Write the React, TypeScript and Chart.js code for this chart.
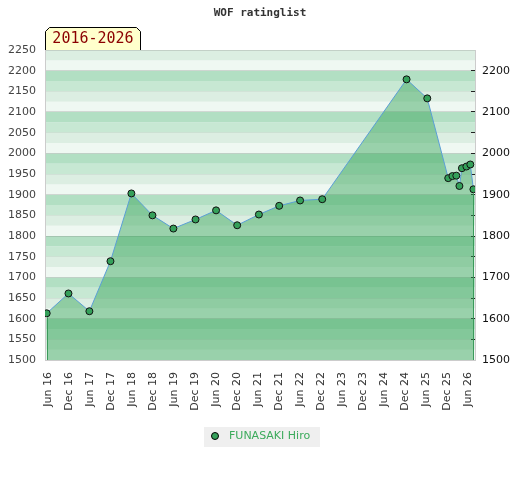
import React, { useEffect, useRef } from 'react';
import { Chart, registerables } from 'chart.js';

Chart.register(...registerables);

const chartTitle = 'WOF ratinglist';
const periodLabel = '2016-2026';
const playerName = 'FUNASAKI Hiro';

const ratingDates = [
  '2016-05-16', '2016-11-22', '2017-05-22', '2017-11-22', '2018-05-22', '2018-11-22',
  '2019-05-22', '2019-12-01', '2020-05-28', '2020-11-28', '2021-06-04', '2021-11-28',
  '2022-05-28', '2022-12-07', '2024-12-10', '2025-06-07', '2025-12-07', '2026-01-13',
  '2026-02-15', '2026-03-13', '2026-04-04', '2026-05-13', '2026-06-16', '2026-07-13',
];
const ratings = [
  1613, 1661, 1618, 1739, 1903, 1850,
  1818, 1840, 1862, 1826, 1852, 1873,
  1886, 1889, 2179, 2133, 1940, 1945,
  1946, 1921, 1964, 1968, 1973, 1913,
];
const xTickLabels = [
  'Jun 16', 'Dec 16', 'Jun 17', 'Dec 17', 'Jun 18', 'Dec 18', 'Jun 19', 'Dec 19',
  'Jun 20', 'Dec 20', 'Jun 21', 'Dec 21', 'Jun 22', 'Dec 22', 'Jun 23', 'Dec 23',
  'Jun 24', 'Dec 24', 'Jun 25', 'Dec 25', 'Jun 26',
];
const xRange = ['2016-05-01', '2026-07-27'];
const yMin = 1500;
const yMax = 2250;
const leftStep = 50;
const rightStep = 100;

const MONTHS = ['Jan', 'Feb', 'Mar', 'Apr', 'May', 'Jun', 'Jul', 'Aug', 'Sep', 'Oct', 'Nov', 'Dec'];
const BASE_YEAR = 2016;

function dateToMonths(s: string): number {
  const [y, m, d] = s.split('-').map(Number);
  const dim = new Date(y, m, 0).getDate();
  return (y - BASE_YEAR) * 12 + (m - 1) + (d - 1) / dim;
}
function labelToMonths(l: string): number {
  const [mon, yy] = l.split(' ');
  return (2000 + Number(yy) - BASE_YEAR) * 12 + MONTHS.indexOf(mon);
}

const FONT = "'DejaVu Sans', Verdana, sans-serif";
const MONO = "'DejaVu Sans Mono', monospace";
const POINT_FILL = '#35a05a';

const bandPlugin = {
  id: 'bands',
  beforeDraw(chart: any) {
    const { ctx, chartArea: a, scales } = chart;
    const y = scales.y;
    const colors = ['#eff8f2', '#dceee2', '#c7e8d3', '#b2dfc3'];
    ctx.save();
    ctx.beginPath();
    ctx.rect(a.left, a.top, a.right - a.left, a.bottom - a.top);
    ctx.clip();
    for (let v = y.min; v < y.max; v += 25) {
      const idx = Math.floor((((v % 100) + 100) % 100) / 25);
      const top = y.getPixelForValue(v + 25);
      const bot = y.getPixelForValue(v);
      ctx.fillStyle = colors[idx];
      ctx.fillRect(a.left, top, a.right - a.left, bot - top);
    }
    ctx.restore();
  },
};

const edgePlugin = {
  id: 'edges',
  afterDatasetsDraw(chart: any) {
    const { ctx, chartArea: a } = chart;
    const pts = chart.getDatasetMeta(0).data;
    if (!pts.length) return;
    ctx.save();
    ctx.strokeStyle = '#3a9a5a';
    ctx.lineWidth = 1;
    for (const p of [pts[0], pts[pts.length - 1]]) {
      const x = Math.round(p.x) + 0.5;
      ctx.beginPath();
      ctx.moveTo(x, p.y + 4);
      ctx.lineTo(x, a.bottom);
      ctx.stroke();
    }
    ctx.restore();
  },
};

const overlayPlugin = {
  id: 'overlay',
  afterDraw(chart: any) {
    const { ctx, chartArea: a, width } = chart;
    ctx.save();
    // title
    ctx.font = `bold 11px ${MONO}`;
    ctx.fillStyle = '#333';
    ctx.textAlign = 'center';
    ctx.textBaseline = 'middle';
    ctx.fillText(chartTitle, width / 2, 13);

    // period tab
    const l = a.left + 0.5, r = a.left + 95.5, t = 27.5, b = a.top, bev = 4;
    ctx.beginPath();
    ctx.moveTo(l, b);
    ctx.lineTo(l, t + bev);
    ctx.lineTo(l + bev, t);
    ctx.lineTo(r - bev, t);
    ctx.lineTo(r, t + bev);
    ctx.lineTo(r, b);
    ctx.fillStyle = '#ffffcc';
    ctx.fill();
    ctx.strokeStyle = '#000';
    ctx.lineWidth = 1;
    ctx.stroke();
    ctx.font = `15px ${MONO}`;
    ctx.fillStyle = '#8b0000';
    ctx.textAlign = 'center';
    ctx.textBaseline = 'middle';
    ctx.fillText(periodLabel, (l + r) / 2, 39.5);

    // legend
    const lx = 204, ly = 427, lw = 116, lh = 20;
    ctx.fillStyle = '#efefef';
    ctx.fillRect(lx, ly, lw, lh);
    ctx.beginPath();
    ctx.arc(lx + 11, ly + 9, 3.5, 0, Math.PI * 2);
    ctx.fillStyle = POINT_FILL;
    ctx.fill();
    ctx.strokeStyle = '#000';
    ctx.stroke();
    ctx.font = `11px ${FONT}`;
    ctx.fillStyle = '#3cab5c';
    ctx.textAlign = 'left';
    ctx.textBaseline = 'middle';
    ctx.fillText(chart.data.datasets[0].label, lx + 25, ly + 9.5);
    ctx.restore();
  },
};

export default function App() {
  const canvasRef = useRef<HTMLCanvasElement | null>(null);

  useEffect(() => {
    const canvas = canvasRef.current;
    if (!canvas) return;
    const points = ratingDates.map((d, i) => ({ x: dateToMonths(d), y: ratings[i] }));
    const tickValues = xTickLabels.map(labelToMonths);

    const chart = new Chart(canvas, {
      type: 'line',
      data: {
        datasets: [
          {
            label: playerName,
            data: points,
            borderColor: '#5b9fd6',
            borderWidth: 1,
            backgroundColor: 'rgba(49,161,84,0.45)',
            fill: 'start',
            tension: 0,
            pointRadius: 3.5,
            pointBackgroundColor: POINT_FILL,
            pointBorderColor: '#111',
            pointBorderWidth: 1,
            yAxisID: 'y',
          },
        ],
      },
      options: {
        responsive: false,
        animation: false,
        devicePixelRatio: 1,
        layout: { padding: { top: 50, bottom: 60, left: 0, right: 0 } },
        plugins: {
          legend: { display: false },
          title: { display: false },
          tooltip: { enabled: false },
        },
        scales: {
          x: {
            type: 'linear',
            position: 'bottom',
            min: dateToMonths(xRange[0]),
            max: dateToMonths(xRange[1]),
            afterBuildTicks: (scale: any) => {
              scale.ticks = tickValues.map((v) => ({ value: v }));
            },
            afterFit: (scale: any) => {
              scale.height = 60;
            },
            grid: { display: true, drawOnChartArea: false, drawTicks: false, color: 'transparent' },
            border: { display: true, color: '#cccccc' },
            ticks: {
              autoSkip: false,
              maxRotation: 90,
              minRotation: 90,
              padding: 12,
              color: '#333',
              font: { family: FONT, size: 11 },
              callback: (_v: any, i: number) => xTickLabels[i],
            },
          },
          y: {
            type: 'linear',
            position: 'left',
            min: yMin,
            max: yMax,
            afterFit: (scale: any) => {
              scale.width = 45;
            },
            grid: {
              drawTicks: false,
              color: (c: any) =>
                c.tick && (c.tick.value % 100 === 0 || c.tick.value === yMax)
                  ? 'rgba(120,120,120,0.25)'
                  : 'rgba(120,120,120,0.1)',
            },
            border: { display: true, color: '#cccccc' },
            ticks: {
              stepSize: leftStep,
              padding: 9,
              color: '#444',
              font: { family: FONT, size: 11 },
              callback: (v: any) => String(v),
            },
          },
          y2: {
            type: 'linear',
            position: 'right',
            min: yMin,
            max: yMax,
            afterFit: (scale: any) => {
              scale.width = 45;
            },
            grid: {
              drawOnChartArea: false,
              drawTicks: true,
              tickLength: -4,
              color: 'transparent',
              tickColor: (c: any) => (c.tick && c.tick.value === yMax ? 'transparent' : '#222'),
            },
            border: { display: true, color: '#cccccc' },
            ticks: {
              stepSize: leftStep,
              padding: 11,
              color: '#111',
              font: { family: FONT, size: 11 },
              callback: (v: any) => (Number(v) % rightStep === 0 ? String(v) : ''),
            },
          },
        },
      },
      plugins: [bandPlugin, edgePlugin, overlayPlugin],
    } as any);

    return () => chart.destroy();
  }, []);

  return (
    <div style={{ position: 'fixed', left: 0, top: 0, width: 520, height: 480, background: '#fff' }}>
      <canvas ref={canvasRef} width={520} height={480} style={{ display: 'block' }} />
    </div>
  );
}
